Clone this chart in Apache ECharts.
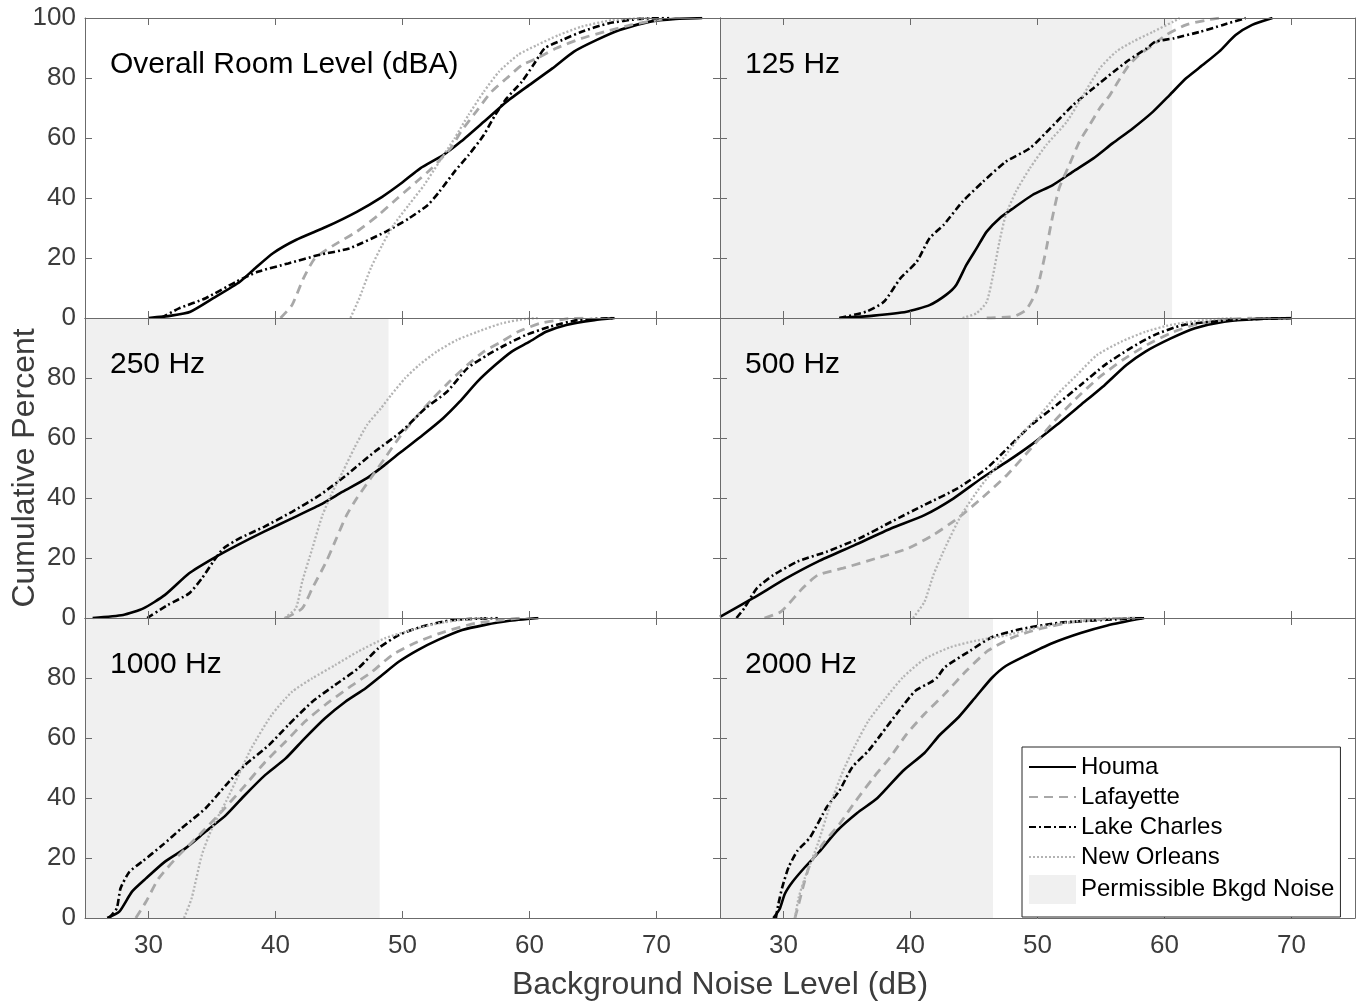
<!DOCTYPE html>
<html>
<head>
<meta charset="utf-8">
<script src="https://cdn.jsdelivr.net/npm/echarts@6/dist/echarts.min.js"></script>
<style>
html,body{margin:0;padding:0;background:#ffffff;}
#chart{width:1363px;height:1005px;}
</style>
</head>
<body>
<div id="chart"></div>
<script>
// ---------- data ----------
const seriesNames = ['Houma', 'Lafayette', 'Lake Charles', 'New Orleans'];
const shadeName = 'Permissible Bkgd Noise';
const panelTitles = ['Overall Room Level (dBA)', '125 Hz', '250 Hz', '500 Hz', '1000 Hz', '2000 Hz'];
const permissibleLimit = [null, 60.6, 48.9, 44.6, 48.2, 46.5];
const xTickValues = [30, 40, 50, 60, 70];
const yTickValues = [0, 20, 40, 60, 80, 100];
const xAxisTitle = 'Background Noise Level (dB)';
const yAxisTitle = 'Cumulative Percent';

// each point: [noise level dB, cumulative percent]
const overallHouma = [[30,0],[31.8,0.8],[33.3,2.1],[35.1,6.6],[37.2,12.1],[38.4,16.6],[39.8,21.6],[41.6,26],[44,30.4],[46.4,35.4],[48.4,40.4],[49.9,44.9],[51.4,49.9],[53.2,54.3],[54.6,58.8],[56.4,65.4],[58.2,72.1],[60,77.7],[61.8,83.2],[63.5,88.8],[65.3,92.7],[67.1,96],[69.5,98.8],[71.5,99.7],[73.6,100]];
const overallLafayette = [[40.4,0],[41.3,4.3],[42.2,13.2],[43.1,19.9],[44.6,24.3],[46.4,28.8],[48.1,34.3],[49.6,39.9],[51.1,45.4],[52.3,49.9],[53.8,56.6],[54.6,62.1],[55.8,68.8],[57,75.4],[58.2,79.9],[59.4,84.3],[60.6,86.6],[62.1,89.9],[64.1,93.2],[65.9,95.4],[68,97.7],[70,99.3],[71,100]];
const overallLakeCharles = [[31,0],[32.4,3.2],[34.5,6.6],[36.9,12.1],[38.6,15.4],[41,18.2],[43.4,21],[45.8,23.2],[48.7,28.8],[50.5,33.2],[52,37.7],[52.9,42.1],[54.1,48.8],[55.2,54.3],[56.4,61],[57.3,67.7],[58.2,73.2],[59.4,78.8],[60.3,84.3],[61.2,89.9],[62.6,92.7],[64.1,95.4],[66.2,98.2],[68.6,99.7],[71,100]];
const overallNewOrleans = [[45.9,0],[46.6,6.6],[47.5,16.6],[48.4,24.3],[49.3,31],[50.5,37.7],[51.7,44.3],[52.9,52.1],[54.1,59.9],[55.2,67.7],[56.4,75.4],[57.6,82.1],[59.1,87.7],[60.6,91],[62.3,94.3],[64.1,97.1],[66.5,99.3],[69.5,100]];

const hz125Houma = [[34.4,0],[37.1,0.8],[39.7,2.1],[41.5,4.3],[42.8,7.7],[43.6,11],[44.4,17.7],[45.2,23.2],[46,28.8],[47,33.2],[48.1,36.6],[49.6,41],[51.2,44.3],[52.8,48.8],[54.4,53.2],[55.9,58.2],[57.5,63.2],[59.1,68.8],[60.4,74.3],[61.7,79.9],[63,84.3],[64.3,88.8],[65.6,94.3],[66.9,97.7],[68.5,100]];
const hz125Lafayette = [[46,0],[48.1,0.5],[49.1,2.7],[49.9,8.8],[50.3,15.4],[50.7,23.2],[51.1,32],[51.7,43.2],[52.5,51],[53.3,58.8],[54.1,64.3],[54.9,69.9],[55.7,74.3],[56.5,79.9],[57.2,84.3],[58,87.7],[59.1,91],[60.1,94.3],[61.7,97.7],[63.3,99.3],[64.3,100]];
const hz125LakeCharles = [[34.4,0],[36.5,2.1],[37.9,5.4],[39.2,13.2],[40.5,18.8],[41.5,26.6],[42.6,31],[44.1,38.8],[45.7,45.4],[47.5,52.1],[49.4,56.6],[51,63.2],[52.8,71],[54.4,76.6],[56,82.1],[57.2,86],[58.6,89.9],[59.3,92.1],[60.7,93.2],[62.8,95.4],[64.6,97.7],[66.4,100]];
const hz125NewOrleans = [[44.1,0],[45.2,1.6],[46,5.4],[46.5,14.3],[47,25.4],[47.5,34.3],[48.3,42.1],[49.4,49.9],[50.7,57.7],[52.3,65.4],[53.6,74.3],[54.9,83.2],[56.2,88.8],[57.5,92.1],[59.1,95.4],[60.7,98.8],[61.2,100]];

const hz250Houma = [[25.6,0],[28,1],[29.6,3.2],[31.3,7.7],[33.2,14.9],[35.1,19.9],[37,24.3],[39.1,28.8],[41.3,33.2],[43.5,37.7],[45.3,42.1],[47.2,46.6],[48.6,51],[49.9,55.4],[51.6,61],[53.2,66.6],[54.5,72.1],[55.9,78.8],[57.3,84.3],[58.6,88.8],[60,92.1],[61.3,95.4],[62.9,97.7],[65.1,99.3],[66.7,100]];
const hz250Lafayette = [[40.8,0],[42.1,3.2],[42.9,9.9],[44,18.8],[44.8,26.6],[45.6,34.3],[46.4,39.9],[47.5,46.6],[48.6,53.2],[49.7,59.9],[51,66.6],[52.4,73.2],[53.7,78.8],[55.1,84.3],[56.4,88.8],[57.8,92.1],[59.1,95.4],[60.8,98.2],[62.9,99.7],[64.3,100]];
const hz250LakeCharles = [[29.9,0],[31.5,4.3],[33.2,8.2],[34.2,13.2],[35.1,18.8],[35.9,23.2],[37.2,26.6],[39.1,30.4],[41.3,35.4],[43.5,41],[45.6,47.7],[47.8,55.4],[49.9,62.1],[51.8,69.9],[53.5,75.4],[55.1,83.2],[56.7,87.7],[58.1,91],[59.7,94.3],[61.6,97.1],[63.8,99.3],[66.7,100]];
const hz250NewOrleans = [[40.7,0],[41.6,3.2],[42.1,12.1],[42.9,23.2],[43.7,34.3],[44.5,42.1],[45.3,48.8],[46.2,56.6],[47.2,64.3],[48.3,69.9],[49.1,74.3],[50.2,79.9],[51.3,84.3],[52.7,88.8],[54.3,92.7],[55.9,95.4],[57.8,98.2],[59.7,99.7],[60.8,100]];

const hz500Houma = [[25,0.4],[27.6,6.6],[30.2,13.2],[32.7,18.8],[35.6,24.3],[38.5,29.9],[41.1,34.3],[43.4,39.9],[45.6,46.6],[47.6,52.1],[49.5,57.7],[51.5,64.3],[53.4,71],[55.3,77.7],[57,84.3],[58.5,88.8],[60.5,93.2],[62.4,96.6],[64.7,98.8],[67.3,99.7],[70,100]];
const hz500Lafayette = [[28.5,0],[29.8,2.1],[31.5,9.9],[32.7,14.3],[34.7,16.6],[37.3,19.9],[39.8,23.2],[41.8,27.7],[43.7,33.2],[45.6,39.9],[47.6,47.7],[49.5,56.6],[51.3,65.5],[53,73],[54.8,80],[56.7,86],[58.6,91],[60.5,95],[62.6,98],[65,99.5],[66.9,100]];
const hz500LakeCharles = [[26.3,0],[26.9,3.2],[27.9,9.9],[29.2,14.3],[31.1,18.8],[33.4,22.1],[36,26.6],[38.5,32.1],[41.1,37.7],[43.7,43.2],[46,49.9],[47.9,57.7],[49.5,64.3],[51.5,71],[53.4,77.7],[55.3,84.3],[57.3,89.9],[59.2,94.3],[61.5,97.7],[65.3,99.3],[70,100]];
const hz500NewOrleans = [[40.2,0],[41.1,5.4],[41.8,14.3],[42.7,23.2],[44,34.3],[45.6,44.3],[47.3,53.2],[48.9,62.1],[50.2,67.7],[51.5,74.3],[53.1,81],[54.7,87.7],[56.6,92.1],[58.5,95.4],[60.5,97.7],[63.1,99.3],[65.3,100]];

const hz1000Houma = [[26.75,0],[27.7,2.1],[28.7,8.8],[29.8,13.2],[31.3,18.8],[32.9,23.2],[34.5,28.8],[36.1,34.3],[37.6,41],[39.2,47.7],[40.8,53.2],[42.3,59.9],[43.9,66.6],[45.5,72.1],[47.1,76.6],[48.4,81],[49.7,85.4],[51.2,89.3],[52.8,92.7],[54.7,96],[56.5,97.7],[58.3,99],[60.7,100]];
const hz1000Lafayette = [[29,0],[29.8,5.4],[30.8,13.2],[32.4,21],[34,27.7],[35.5,34.3],[37.4,43.2],[39.2,52.1],[40.8,58.8],[42.3,65.4],[43.9,71],[45.7,76.6],[47.6,82.1],[49.2,87.7],[51.2,92.1],[53.3,95.4],[55.7,98.2],[58.6,99.7],[59.4,100]];
const hz1000LakeCharles = [[26.9,0],[27.5,3.2],[27.8,9.9],[28.5,15.4],[29.5,18.8],[31.1,24.3],[32.6,29.9],[34.5,36.6],[36.1,44.3],[37.6,51],[39.5,57.7],[41,64.3],[42.9,72.1],[44.7,77.7],[46.5,83.2],[48.1,89.9],[49.7,94.3],[51.5,97.1],[53.9,99.3],[57.5,100]];
const hz1000NewOrleans = [[32.8,0],[33.4,6.6],[34.2,21],[35,29.9],[36.1,38.8],[37.1,47.7],[38.1,56.6],[39.7,67.7],[41.3,75.4],[42.9,79.9],[44.7,84.3],[46.5,88.8],[48.6,93.2],[50.7,96],[52.8,98.2],[55.2,99.7],[57,100]];

const hz2000Houma = [[29.2,0],[29.7,3],[30.1,8],[30.7,12],[31.7,17],[32.8,22],[34.2,29],[35.8,35],[37.4,40],[39.4,49],[41.1,55],[42.3,61],[43.8,67],[45.2,74],[46.4,80],[47.5,84],[49.1,87.5],[51.1,91.5],[53.4,95],[55.5,97.5],[57.5,99.3],[58.4,100]];
const hz2000Lafayette = [[30.9,0],[31.2,4.7],[31.6,11.3],[32.1,18],[33.1,24.7],[34.4,31.3],[35.7,39.1],[37.1,46.9],[38.4,53.6],[39.7,61.3],[41.1,68],[42.7,74.7],[44.4,82.4],[46.1,89.1],[48.1,93.6],[50.1,96.3],[52.7,98.6],[55.4,99.7],[57.7,100]];
const hz2000LakeCharles = [[29.4,0],[29.6,4.7],[29.9,10.2],[30.4,16.9],[31.1,22.4],[32.1,26.9],[33.4,36.9],[34.4,42.4],[35.4,50.2],[36.7,55.8],[37.7,61.3],[39.1,69.1],[40.4,75.8],[41.6,78.6],[42.1,80.2],[42.7,83.6],[44.7,89.1],[46.4,93.6],[48.7,96.3],[51.7,98.4],[55.4,99.4],[58.4,100]];
const hz2000NewOrleans = [[30.9,0],[31.2,6.9],[31.7,13.6],[32.7,24.7],[33.7,38],[34.7,49.1],[35.7,58],[36.7,65.8],[38.1,73.6],[39.4,80.2],[41.1,86.3],[43.1,90.2],[45.1,92.4],[47.4,94.1],[50.1,96.9],[53.4,99.1],[56.7,100]];

const panelData = [
  [overallHouma, overallLafayette, overallLakeCharles, overallNewOrleans],
  [hz125Houma, hz125Lafayette, hz125LakeCharles, hz125NewOrleans],
  [hz250Houma, hz250Lafayette, hz250LakeCharles, hz250NewOrleans],
  [hz500Houma, hz500Lafayette, hz500LakeCharles, hz500NewOrleans],
  [hz1000Houma, hz1000Lafayette, hz1000LakeCharles, hz1000NewOrleans],
  [hz2000Houma, hz2000Lafayette, hz2000LakeCharles, hz2000NewOrleans]
];

// ---------- styling / layout ----------
const FONT = '"Liberation Sans", Arial, Helvetica, sans-serif';
const AXIS_COLOR = '#6b6b6b';
const LABEL_COLOR = '#3c3c3c';
const SHADE = '#f0f0f0';
const lineStyles = [
  {color: '#000000', width: 2.6, type: 'solid'},
  {color: '#a8a8a8', width: 2.8, type: [9, 6]},
  {color: '#000000', width: 2.6, type: [7, 3, 2, 3]},
  {color: '#b3b3b3', width: 2.3, type: [2, 2]}
];
const gridLefts = [85, 720];
const gridTops = [18, 318, 618];
const GW = 635, GH = 300;

const grid = [], xAxis = [], yAxis = [], series = [], graphic = [];
for (let i = 0; i < 6; i++) {
  const row = Math.floor(i / 2), col = i % 2;
  grid.push({left: gridLefts[col], top: gridTops[row], width: GW, height: GH, show: false});
  const axisLine = {show: true, onZero: false, lineStyle: {color: AXIS_COLOR, width: 1}};
  const xTick = {show: true, inside: true, length: 7, lineStyle: {color: AXIS_COLOR, width: 1}, customValues: xTickValues};
  const yTick = {show: true, inside: true, length: 7, lineStyle: {color: AXIS_COLOR, width: 1}};
  xAxis.push({
    gridIndex: i, type: 'value', position: 'bottom', min: 25, max: 75, z: 5,
    axisLine: axisLine, axisTick: xTick, splitLine: {show: false},
    axisLabel: {show: row === 2, customValues: xTickValues, margin: 15, color: LABEL_COLOR, fontSize: 26, fontFamily: FONT}
  });
  xAxis.push({
    gridIndex: i, type: 'value', position: 'top', min: 25, max: 75, z: 5,
    axisLine: axisLine, axisTick: xTick, splitLine: {show: false},
    axisLabel: {show: false, customValues: xTickValues}
  });
  yAxis.push({
    gridIndex: i, type: 'value', position: 'left', min: 0, max: 100, interval: 20, z: 5,
    axisLine: axisLine, axisTick: yTick, splitLine: {show: false},
    axisLabel: {show: col === 0, showMaxLabel: row === 0, showMinLabel: true, margin: 9, color: LABEL_COLOR, fontSize: 26, fontFamily: FONT}
  });
  yAxis.push({
    gridIndex: i, type: 'value', position: 'right', min: 0, max: 100, interval: 20, z: 5,
    axisLine: axisLine, axisTick: yTick, splitLine: {show: false},
    axisLabel: {show: false}
  });
  if (permissibleLimit[i] != null) {
    series.push({
      name: shadeName, type: 'line', xAxisIndex: 2 * i, yAxisIndex: 2 * i,
      data: [[25, 0]], symbol: 'none', silent: true, z: 1,
      lineStyle: {width: 0, color: SHADE}, itemStyle: {color: SHADE},
      markArea: {
        silent: true, z: 1, label: {show: false}, itemStyle: {color: SHADE, borderWidth: 0},
        data: [[{xAxis: 25}, {xAxis: permissibleLimit[i]}]]
      }
    });
  }
  panelData[i].forEach(function (d, k) {
    series.push({
      name: seriesNames[k], type: 'line', xAxisIndex: 2 * i, yAxisIndex: 2 * i,
      data: d, symbol: 'none', showSymbol: false, smooth: 0.2, silent: true, z: 3,
      lineStyle: lineStyles[k], itemStyle: {color: lineStyles[k].color}
    });
  });
  graphic.push({
    type: 'text', z: 100,
    x: gridLefts[col] + 25, y: gridTops[row] + 47,
    style: {text: panelTitles[i], fill: '#000', font: '30px ' + FONT, verticalAlign: 'middle', align: 'left'}
  });
}
graphic.push({
  type: 'text', z: 100, x: 720, y: 985,
  style: {text: xAxisTitle, fill: LABEL_COLOR, font: '32px ' + FONT, align: 'center', verticalAlign: 'middle'}
});
graphic.push({
  type: 'text', z: 100, x: 25, y: 468, rotation: Math.PI / 2,
  style: {text: yAxisTitle, fill: LABEL_COLOR, font: '32px ' + FONT, align: 'center', verticalAlign: 'middle'}
});

const chart = echarts.init(document.getElementById('chart'), null, {renderer: 'canvas'});
chart.setOption({
  animation: false,
  backgroundColor: '#ffffff',
  grid: grid, xAxis: xAxis, yAxis: yAxis, series: series, graphic: graphic,
  legend: {
    orient: 'vertical', left: 1022, top: 747, z: 20,
    itemWidth: 47, itemHeight: 29, itemGap: 6,
    padding: [8, 6, 13, 6],
    backgroundColor: '#ffffff', borderColor: '#262626', borderWidth: 1, borderRadius: 0,
    selectedMode: false,
    itemStyle: {opacity: 0},
    textStyle: {fontSize: 24, color: '#000', fontFamily: FONT},
    data: seriesNames.map(function (n) { return {name: n}; }).concat([{name: shadeName, icon: 'rect', itemStyle: {color: SHADE, opacity: 1}}])
  }
});
</script>
</body>
</html>
